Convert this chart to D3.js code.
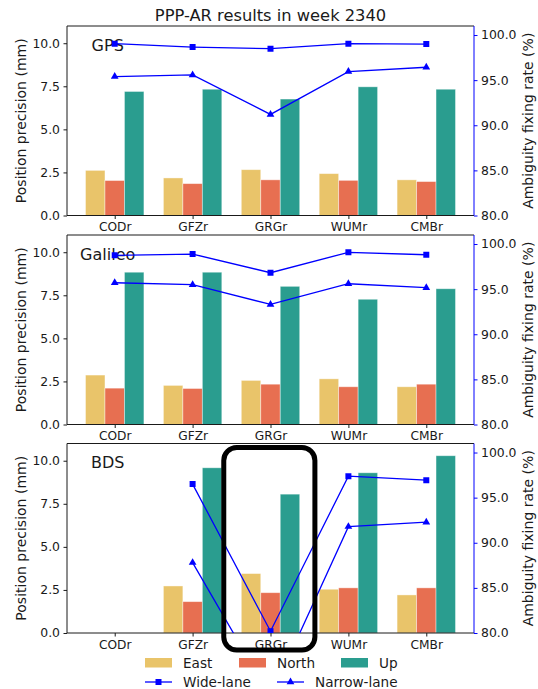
<!DOCTYPE html>
<html><head><meta charset="utf-8">
<script src="https://cdn.jsdelivr.net/npm/d3@7/dist/d3.min.js"></script>
<style>body{margin:0;background:#fff}text{font-family:"DejaVu Sans",sans-serif;fill:#1a1a1a}</style>
</head><body><svg id="c" width="538" height="689"></svg>
<script>
const categories = ["CODr","GFZr","GRGr","WUMr","CMBr"];
const systems = ["GPS","Galileo","BDS"];
const gpsEast = [2.62, 2.18, 2.66, 2.43, 2.07];
const gpsNorth = [2.03, 1.85, 2.07, 2.04, 1.97];
const gpsUp = [7.20, 7.33, 6.76, 7.47, 7.33];
const gpsWide = [99.04, 98.67, 98.49, 99.04, 99.00];
const gpsNarrow = [95.40, 95.58, 91.20, 95.95, 96.43];
const galEast = [2.87, 2.27, 2.56, 2.65, 2.19];
const galNorth = [2.11, 2.09, 2.34, 2.19, 2.34];
const galUp = [8.84, 8.84, 8.02, 7.27, 7.88];
const galWide = [98.75, 98.89, 96.82, 99.08, 98.81];
const galNarrow = [95.71, 95.49, 93.31, 95.60, 95.16];
const bdsEast = [null, 2.73, 3.45, 2.54, 2.21];
const bdsNorth = [null, 1.82, 2.34, 2.62, 2.62];
const bdsUp = [null, 9.59, 8.06, 9.30, 10.29];
const bdsWide = [null, 96.50, 80.20, 97.38, 96.94];
const bdsNarrow = [null, 87.80, 72.90, 91.79, 92.28];
const leftTicks = [0, 2.5, 5, 7.5, 10];
const rightTicks = [80, 85, 90, 95, 100];
const compNames = ["East","North","Up"];
const lineNames = ["Wide-lane","Narrow-lane"];

const panels = [
  {name: systems[0], bars: [gpsEast, gpsNorth, gpsUp], wide: gpsWide, narrow: gpsNarrow},
  {name: systems[1], bars: [galEast, galNorth, galUp], wide: galWide, narrow: galNarrow},
  {name: systems[2], bars: [bdsEast, bdsNorth, bdsUp], wide: bdsWide, narrow: bdsNarrow}
];
const colors = ["#e9c46a", "#e76f51", "#2a9d8f"];
const blue = "#0000ff";
const svg = d3.select("#c");
const L = 67, R = 474, H = 189.5;
const tops = [26, 235, 443.5];
const bw = 0.25;
const x = d3.scaleLinear().domain([-0.6125, 4.6125]).range([L, R]);

svg.append("text").attr("x", 270.5).attr("y", 20.5).attr("text-anchor","middle")
  .style("font-size","16.3px").text("PPP-AR results in week 2340");

panels.forEach((p, pi) => {
  const top = tops[pi], bot = top + H;
  const y = d3.scaleLinear().domain([0, 11]).range([bot, top]);
  const y2 = d3.scaleLinear().domain([80, 101]).range([bot, top]);
  const g = svg.append("g");
  const cid = "clip" + pi;
  g.append("clipPath").attr("id", cid).append("rect")
    .attr("x", L).attr("y", top).attr("width", R - L).attr("height", H);
  // bars
  p.bars.forEach((vals, k) => {
    g.selectAll(null).data(vals.map((v, i) => ({v, i})).filter(d => d.v != null))
      .enter().append("rect")
      .attr("x", d => x(d.i + (k - 1) * bw - bw / 2))
      .attr("width", x(bw) - x(0))
      .attr("y", d => y(d.v)).attr("height", d => y(0) - y(d.v))
      .attr("fill", colors[k]).attr("stroke", "#ffffff").attr("stroke-opacity", 0.5).attr("stroke-width", 0.8);
  });
  // left axis
  const ax = d3.axisLeft(y).tickValues(leftTicks).tickFormat(d3.format(".1f")).tickSize(3.5).tickPadding(3.5);
  const ag = g.append("g").attr("transform", `translate(${L},0)`).call(ax);
  ag.select(".domain").remove();
  ag.selectAll("text").style("font-size","12.4px").style("fill","#1a1a1a");
  ag.selectAll("line").attr("stroke","#1a1a1a");
  // x axis
  const xa = d3.axisBottom(x).tickValues(d3.range(categories.length)).tickFormat(i => categories[i]).tickSize(3.5).tickPadding(3.5);
  const xg = g.append("g").attr("transform", `translate(0,${bot})`).call(xa);
  xg.select(".domain").remove();
  xg.selectAll("text").style("font-size","12.2px").style("fill","#1a1a1a");
  xg.selectAll("line").attr("stroke","#1a1a1a");
  // right axis
  const ra = d3.axisRight(y2).tickValues(rightTicks).tickFormat(d3.format(".1f")).tickSize(3.5).tickPadding(3.5);
  const rg = g.append("g").attr("transform", `translate(${R},0)`).call(ra);
  rg.select(".domain").remove();
  rg.selectAll("text").style("font-size","12.4px").style("fill","#1a1a1a");
  rg.selectAll("line").attr("stroke", blue);
  // spines
  g.append("line").attr("x1", L).attr("x2", R).attr("y1", top).attr("y2", top).attr("stroke","#1a1a1a");
  g.append("line").attr("x1", L).attr("x2", R).attr("y1", bot).attr("y2", bot).attr("stroke","#1a1a1a");
  g.append("line").attr("x1", L).attr("x2", L).attr("y1", top).attr("y2", bot).attr("stroke","#1a1a1a");
  g.append("line").attr("x1", R).attr("x2", R).attr("y1", top).attr("y2", bot).attr("stroke", blue);
  // axis labels
  g.append("text").attr("transform", `translate(21,${(top + bot) / 2}) rotate(-90)`)
    .attr("text-anchor","middle").attr("dy","0.35em").style("font-size","14px").text("Position precision (mm)");
  g.append("text").attr("transform", `translate(528,${(top + bot) / 2}) rotate(-90)`)
    .attr("text-anchor","middle").attr("dy","0.35em").style("font-size","14px").text("Ambiguity fixing rate (%)");
  // panel label
  g.append("text").attr("x", L + 0.1 * (R - L)).attr("y", bot - 0.9 * H)
    .attr("text-anchor","middle").attr("dy","0.35em").style("font-size","16px").text(p.name);
  // lines
  const lg = g.append("g").attr("clip-path", `url(#${cid})`);
  const mk = (vals, sym, size) => {
    const pts = vals.map((v, i) => ({v, i})).filter(d => d.v != null);
    lg.append("path").datum(pts)
      .attr("d", d3.line().x(d => x(d.i)).y(d => y2(d.v)))
      .attr("fill","none").attr("stroke", blue).attr("stroke-width", 1.3);
    lg.selectAll(null).data(pts).enter().append("path")
      .attr("transform", d => `translate(${x(d.i)},${y2(d.v)})`)
      .attr("d", d3.symbol().type(sym).size(size)).attr("fill", blue);
  };
  mk(p.wide, d3.symbolSquare, 36);
  mk(p.narrow, d3.symbolTriangle, 26);
});

// highlight box around GRGr in BDS panel
{
  const top = tops[2], bot = top + H;
  svg.append("rect").attr("x", x(2 - 0.6)).attr("y", top + 4)
    .attr("width", x(2 + 0.57) - x(2 - 0.6)).attr("height", bot - top + 13)
    .attr("rx", 13).attr("fill","none").attr("stroke","#000").attr("stroke-width", 5);
}

// legend
const lgd = svg.append("g");
const colX = [145, 239, 341];
compNames.forEach((n, k) => {
  lgd.append("rect").attr("x", colX[k]).attr("y", 658).attr("width", 27).attr("height", 9.5).attr("fill", colors[k]);
  lgd.append("text").attr("x", colX[k] + 38).attr("y", 663).attr("dy","0.35em").style("font-size","13.6px").text(n);
});
const lineX = [145, 277];
const syms = [d3.symbolSquare, d3.symbolTriangle];
lineNames.forEach((n, k) => {
  lgd.append("line").attr("x1", lineX[k]).attr("x2", lineX[k] + 27).attr("y1", 682).attr("y2", 682)
    .attr("stroke", blue).attr("stroke-width", 1.3);
  lgd.append("path").attr("transform", `translate(${lineX[k] + 13.5},682)`)
    .attr("d", d3.symbol().type(syms[k]).size(k ? 26 : 36)).attr("fill", blue);
  lgd.append("text").attr("x", lineX[k] + 38).attr("y", 682).attr("dy","0.35em").style("font-size","13.6px").text(n);
});
</script></body></html>
